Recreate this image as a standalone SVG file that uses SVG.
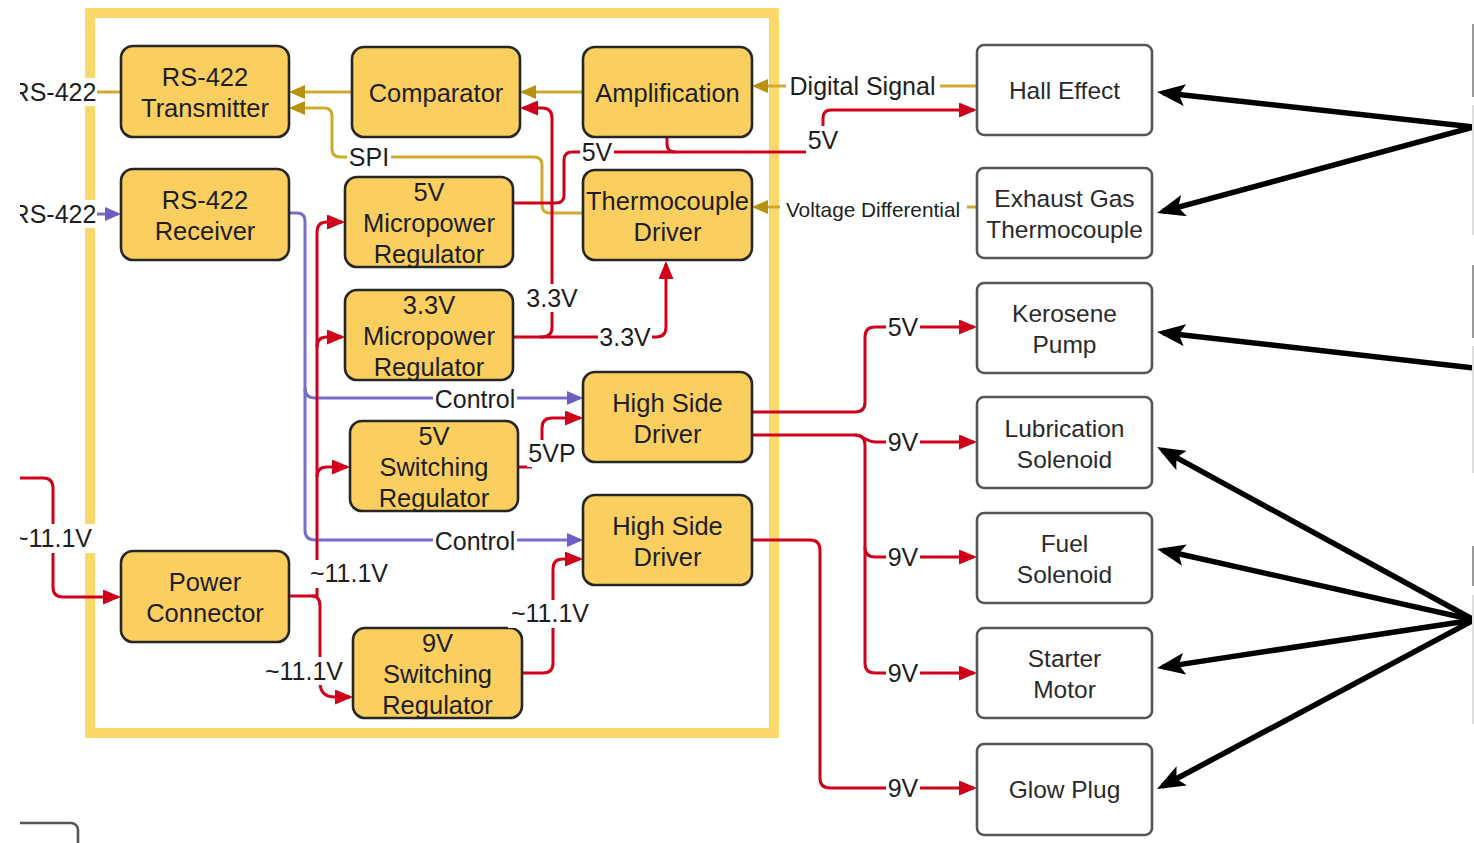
<svg xmlns="http://www.w3.org/2000/svg" width="1474" height="843" viewBox="0 0 1474 843">
  <defs>
    <style>
      .blk { fill: #FBCF5F; stroke: #262626; stroke-width: 2.6; }
      .dev { fill: #FFFFFF; stroke: #555555; stroke-width: 2.6; }
      .t { font-family: "Liberation Sans", Arial, Helvetica, sans-serif; font-size: 25.5px; fill: #1e1e1e; text-anchor: middle; }
      .td { font-family: "Liberation Sans", Arial, Helvetica, sans-serif; font-size: 24.5px; fill: #2a2a2a; text-anchor: middle; }
      .lt { font-family: "Liberation Sans", Arial, Helvetica, sans-serif; font-size: 25px; fill: #1e1e1e; text-anchor: middle; }
      .lbg { fill: #FFFFFF; }
      .red { fill: none; stroke: #D0021B; stroke-width: 3; }
      .gold { fill: none; stroke: #CFAA2E; stroke-width: 3; }
      .pur { fill: none; stroke: #7A6CCB; stroke-width: 3; }
      .bk { fill: none; stroke: #000000; stroke-width: 5.5; }
    </style>
    <marker id="aR" markerUnits="userSpaceOnUse" markerWidth="19" markerHeight="15" refX="15" refY="7.5" orient="auto">
      <path d="M0,0 L18,7.5 L0,15 z" fill="#D0021B"/>
    </marker>
    <marker id="aG" markerUnits="userSpaceOnUse" markerWidth="17" markerHeight="14" refX="13" refY="7" orient="auto">
      <path d="M0,0 L16,7 L0,14 z" fill="#B8920E"/>
    </marker>
    <marker id="aP" markerUnits="userSpaceOnUse" markerWidth="17" markerHeight="14" refX="13" refY="7" orient="auto">
      <path d="M0,0 L16,7 L0,14 z" fill="#6C5EC4"/>
    </marker>
    <marker id="aK" markerUnits="userSpaceOnUse" markerWidth="29" markerHeight="22" refX="22" refY="11" orient="auto">
      <path d="M0,0 L28,11 L0,22 L6,11 z" fill="#000000"/>
    </marker>
  </defs>

  <rect x="0" y="0" width="1474" height="843" fill="#FFFFFF"/>

  <!-- controller enclosure -->
  <rect id="enclosure" x="90" y="13" width="684" height="720" fill="none" stroke="#FBD86C" stroke-width="10"/>

  <!-- connectors -->
  <g id="connectors">
    <!-- signal paths (gold) -->
    <path class="gold" d="M583 92 L523 92" marker-end="url(#aG)"/>
    <path class="gold" d="M352 92 L292 92" marker-end="url(#aG)"/>
    <path class="gold" d="M121 92 L95 92"/>
    <path class="gold" d="M583 213 L550 213 Q542 213 542 205 L542 165 Q542 157 534 157 L340 157 Q332 157 332 149 L332 116 Q332 108 324 108 L292 108" marker-end="url(#aG)"/>
    <path class="gold" d="M977 86 L755 86" marker-end="url(#aG)"/>
    <path class="gold" d="M977 207 L755 207" marker-end="url(#aG)"/>

    <!-- control paths (purple) -->
    <path class="pur" d="M95 214 L118 214" marker-end="url(#aP)"/>
    <path class="pur" d="M289 213 L297 213 Q305 213 305 221 L305 530 Q305 540 315 540 L580 540" marker-end="url(#aP)"/>
    <path class="pur" d="M305 388 Q305 398 315 398 L580 398" marker-end="url(#aP)"/>

    <!-- power paths (red) -->
    <path class="red" d="M20 478 L43 478 Q53 478 53 488 L53 587 Q53 597 63 597 L118 597" marker-end="url(#aR)"/>
    <path class="red" d="M289 596 L318 596" stroke-width="6"/>
    <path class="red" d="M317 598 L317 232 Q317 222 327 222 L342 222" marker-end="url(#aR)"/>
    <path class="red" d="M317 347 Q317 337 327 337 L342 337" marker-end="url(#aR)"/>
    <path class="red" d="M317 477 Q317 467 327 467 L347 467" marker-end="url(#aR)"/>
    <path class="red" d="M312 596 Q320 596 320 606 L320 682 Q320 697 335 697 L350 697" marker-end="url(#aR)"/>
    <path class="red" d="M513 203 L556 203 Q564 203 564 195 L564 160 Q564 152 572 152 L815 152 Q823 152 823 144 L823 118 Q823 110 831 110 L974 110" marker-end="url(#aR)"/>
    <path class="red" d="M667 137 L667 144 Q667 152 675 152"/>
    <path class="red" d="M513 337 L542 337 Q552 337 552 327 L552 118 Q552 108 542 108 L523 108" marker-end="url(#aR)"/>
    <path class="red" d="M540 337 L656 337 Q666 337 666 327 L666 264" marker-end="url(#aR)"/>
    <path class="red" d="M518 467 L532 467"/>
    <path class="red" d="M542 444 L542 428 Q542 418 552 418 L580 418" marker-end="url(#aR)"/>
    <path class="red" d="M522 673 L543 673 Q553 673 553 663 L553 569 Q553 559 563 559 L580 559" marker-end="url(#aR)"/>
    <path class="red" d="M752 412 L855 412 Q865 412 865 402 L865 337 Q865 327 875 327 L974 327" marker-end="url(#aR)"/>
    <path class="red" d="M752 435 L855 435 Q865 435 865 445 L865 663 Q865 673 875 673 L974 673" marker-end="url(#aR)"/>
    <path class="red" d="M855 435 C863 435 866 442 876 442 L974 442" marker-end="url(#aR)"/>
    <path class="red" d="M865 547 Q865 557 875 557 L974 557" marker-end="url(#aR)"/>
    <path class="red" d="M752 540 L810 540 Q820 540 820 550 L820 778 Q820 788 830 788 L974 788" marker-end="url(#aR)"/>

    <!-- external pointers (black) -->
    <path class="bk" d="M1474 127 L1163 92.7" marker-end="url(#aK)"/>
    <path class="bk" d="M1474 127 L1162.8 211.4" marker-end="url(#aK)"/>
    <path class="bk" d="M1474 368 L1163 332.7" marker-end="url(#aK)"/>
    <path class="bk" d="M1474 620 L1162.3 449.9" marker-end="url(#aK)"/>
    <path class="bk" d="M1474 620 L1162.9 550.3" marker-end="url(#aK)"/>
    <path class="bk" d="M1474 620 L1162.9 667.1" marker-end="url(#aK)"/>
    <path class="bk" d="M1474 620 L1162.3 786.2" marker-end="url(#aK)"/>
  </g>

  <!-- controller blocks -->
  <g id="rs422-tx">
    <rect class="blk" x="121" y="46" width="168" height="91" rx="12"/>
    <text class="t" x="205" y="86">RS-422</text>
    <text class="t" x="205" y="117">Transmitter</text>
  </g>
  <g id="rs422-rx">
    <rect class="blk" x="121" y="169" width="168" height="91" rx="12"/>
    <text class="t" x="205" y="209">RS-422</text>
    <text class="t" x="205" y="240">Receiver</text>
  </g>
  <g id="comparator">
    <rect class="blk" x="352" y="47" width="168" height="90" rx="12"/>
    <text class="t" x="436" y="102">Comparator</text>
  </g>
  <g id="amplification">
    <rect class="blk" x="583" y="47" width="169" height="90" rx="12"/>
    <text class="t" x="667.5" y="102">Amplification</text>
  </g>
  <g id="reg-5v-micro">
    <rect class="blk" x="345" y="177" width="168" height="90" rx="12"/>
    <text class="t" x="429" y="201">5V</text>
    <text class="t" x="429" y="232">Micropower</text>
    <text class="t" x="429" y="263">Regulator</text>
  </g>
  <g id="tc-driver">
    <rect class="blk" x="583" y="170" width="169" height="90" rx="12"/>
    <text class="t" x="667.5" y="209.5">Thermocouple</text>
    <text class="t" x="667.5" y="240.5">Driver</text>
  </g>
  <g id="reg-33v-micro">
    <rect class="blk" x="345" y="290" width="168" height="90" rx="12"/>
    <text class="t" x="429" y="314">3.3V</text>
    <text class="t" x="429" y="345">Micropower</text>
    <text class="t" x="429" y="376">Regulator</text>
  </g>
  <g id="hsd-1">
    <rect class="blk" x="583" y="372" width="169" height="90" rx="12"/>
    <text class="t" x="667.5" y="411.5">High Side</text>
    <text class="t" x="667.5" y="442.5">Driver</text>
  </g>
  <g id="reg-5v-sw">
    <rect class="blk" x="350" y="421" width="168" height="90" rx="12"/>
    <text class="t" x="434" y="445">5V</text>
    <text class="t" x="434" y="476">Switching</text>
    <text class="t" x="434" y="507">Regulator</text>
  </g>
  <g id="hsd-2">
    <rect class="blk" x="583" y="495" width="169" height="90" rx="12"/>
    <text class="t" x="667.5" y="534.5">High Side</text>
    <text class="t" x="667.5" y="565.5">Driver</text>
  </g>
  <g id="power-conn">
    <rect class="blk" x="121" y="551" width="168" height="91" rx="12"/>
    <text class="t" x="205" y="591">Power</text>
    <text class="t" x="205" y="622">Connector</text>
  </g>
  <g id="reg-9v-sw">
    <rect class="blk" x="353" y="628" width="169" height="90" rx="12"/>
    <text class="t" x="437.5" y="652">9V</text>
    <text class="t" x="437.5" y="683">Switching</text>
    <text class="t" x="437.5" y="714">Regulator</text>
  </g>

  <!-- field devices -->
  <g id="hall-effect">
    <rect class="dev" x="977" y="45" width="175" height="90" rx="7"/>
    <text class="td" x="1064.5" y="99">Hall Effect</text>
  </g>
  <g id="egt">
    <rect class="dev" x="977" y="168" width="175" height="90" rx="7"/>
    <text class="td" x="1064.5" y="207">Exhaust Gas</text>
    <text class="td" x="1064.5" y="238">Thermocouple</text>
  </g>
  <g id="kerosene-pump">
    <rect class="dev" x="977" y="283" width="175" height="90" rx="7"/>
    <text class="td" x="1064.5" y="322">Kerosene</text>
    <text class="td" x="1064.5" y="353">Pump</text>
  </g>
  <g id="lube-solenoid">
    <rect class="dev" x="977" y="397" width="175" height="91" rx="7"/>
    <text class="td" x="1064.5" y="437">Lubrication</text>
    <text class="td" x="1064.5" y="468">Solenoid</text>
  </g>
  <g id="fuel-solenoid">
    <rect class="dev" x="977" y="513" width="175" height="90" rx="7"/>
    <text class="td" x="1064.5" y="552">Fuel</text>
    <text class="td" x="1064.5" y="583">Solenoid</text>
  </g>
  <g id="starter-motor">
    <rect class="dev" x="977" y="628" width="175" height="90" rx="7"/>
    <text class="td" x="1064.5" y="667">Starter</text>
    <text class="td" x="1064.5" y="698">Motor</text>
  </g>
  <g id="glow-plug">
    <rect class="dev" x="977" y="744" width="175" height="91" rx="7"/>
    <text class="td" x="1064.5" y="798">Glow Plug</text>
  </g>
  <g id="partial-box">
    <rect class="dev" x="-30" y="823" width="108" height="50" rx="7"/>
  </g>

  <!-- connector labels -->
  <g id="labels">
    <rect class="lbg" x="8" y="78" width="89" height="28"/>
    <text class="lt" x="54" y="101">RS-422</text>
    <rect class="lbg" x="8" y="200" width="89" height="28"/>
    <text class="lt" x="54" y="223">RS-422</text>
    <rect class="lbg" x="12" y="524" width="84" height="29"/>
    <text class="lt" x="53" y="547">~11.1V</text>

    <rect class="lbg" x="786" y="72" width="154" height="28"/>
    <text class="lt" x="862.5" y="95">Digital Signal</text>
    <rect class="lbg" x="780" y="195" width="187" height="25"/>
    <text class="lt" x="873" y="217" style="font-size:20.8px">Voltage Differential</text>

    <rect class="lbg" x="347" y="143" width="44" height="28"/>
    <text class="lt" x="369" y="166">SPI</text>
    <rect class="lbg" x="580" y="139" width="34" height="27"/>
    <text class="lt" x="597" y="161">5V</text>
    <rect class="lbg" x="806" y="126" width="35" height="29"/>
    <text class="lt" x="823" y="149">5V</text>

    <rect class="lbg" x="525" y="284" width="54" height="28"/>
    <text class="lt" x="552" y="307">3.3V</text>
    <rect class="lbg" x="598" y="323" width="54" height="28"/>
    <text class="lt" x="625" y="346">3.3V</text>

    <rect class="lbg" x="433" y="385" width="84" height="27"/>
    <text class="lt" x="475" y="408">Control</text>
    <rect class="lbg" x="433" y="527" width="84" height="27"/>
    <text class="lt" x="475" y="550">Control</text>
    <rect class="lbg" x="527" y="440" width="50" height="27"/>
    <text class="lt" x="552" y="462">5VP</text>

    <rect class="lbg" x="307" y="560" width="84" height="28"/>
    <text class="lt" x="349" y="582">~11.1V</text>
    <rect class="lbg" x="262" y="657" width="84" height="28"/>
    <text class="lt" x="304" y="680">~11.1V</text>
    <rect class="lbg" x="508" y="600" width="84" height="28"/>
    <text class="lt" x="550" y="622">~11.1V</text>

    <rect class="lbg" x="886" y="314" width="34" height="27"/>
    <text class="lt" x="903" y="336">5V</text>
    <rect class="lbg" x="886" y="429" width="34" height="27"/>
    <text class="lt" x="903" y="451">9V</text>
    <rect class="lbg" x="886" y="544" width="34" height="27"/>
    <text class="lt" x="903" y="566">9V</text>
    <rect class="lbg" x="886" y="660" width="34" height="27"/>
    <text class="lt" x="903" y="682">9V</text>
    <rect class="lbg" x="886" y="775" width="34" height="27"/>
    <text class="lt" x="903" y="797">9V</text>
  </g>

  <!-- sheet borders: blank strip on the left, neighbouring box edges on the right -->
  <rect x="0" y="0" width="20" height="843" fill="#FFFFFF"/>
  <g id="right-edges" stroke-width="2">
    <line x1="1473" y1="24" x2="1473" y2="97" stroke="#9a9a9a"/>
    <line x1="1473" y1="105" x2="1473" y2="235" stroke="#dddddd"/>
    <line x1="1473" y1="265" x2="1473" y2="338" stroke="#9a9a9a"/>
    <line x1="1473" y1="346" x2="1473" y2="473" stroke="#dddddd"/>
    <line x1="1473" y1="546" x2="1473" y2="586" stroke="#9a9a9a"/>
    <line x1="1473" y1="595" x2="1473" y2="724" stroke="#dddddd"/>
  </g>
</svg>
